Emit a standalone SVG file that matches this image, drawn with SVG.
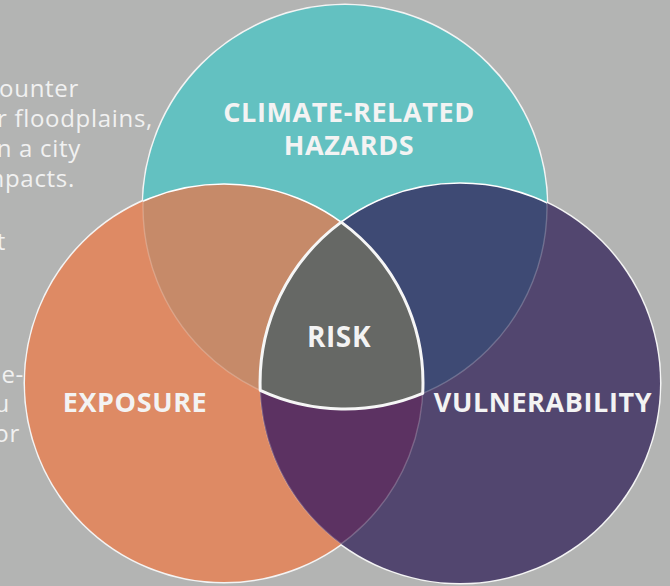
<svg xmlns="http://www.w3.org/2000/svg" width="670" height="586" viewBox="0 0 670 586">
<style>
.lbl{font-family:"Open Sans","Liberation Sans",sans-serif;font-weight:700;font-size:27px;letter-spacing:0.6px;fill:#f3f3f3;text-anchor:middle}
.side{font-family:"Open Sans","Liberation Sans",sans-serif;font-weight:400;font-size:24px;letter-spacing:0.7px;fill:#f1f1f1;text-anchor:end}
.outer{fill:none;stroke:#f4f4f4;stroke-width:3}
.inner{fill:none;stroke:#ffffff;stroke-width:1.6}
.faint{fill:none;stroke:#ffffff;stroke-width:1.4;stroke-opacity:0.22}
</style>
<defs>
<clipPath id="cT"><circle cx="345" cy="207" r="202"/></clipPath>
<clipPath id="cO"><circle cx="224" cy="383" r="199"/></clipPath>
<clipPath id="cP"><circle cx="460" cy="383" r="200"/></clipPath>
</defs>
<rect width="670" height="586" fill="#b3b4b3"/>
<g id="side-text">
<text class="side" x="79" y="97">ounter</text>
<text class="side" x="153" y="127">r floodplains,</text>
<text class="side" x="81" y="157">n a city</text>
<text class="side" x="75" y="187">mpacts.</text>
<text class="side" x="6" y="250">t</text>
<text class="side" x="24" y="383">e-</text>
<text class="side" x="10" y="412">u</text>
<text class="side" x="20" y="442">or</text>
</g>
<g id="outlines">
<circle class="outer" cx="345" cy="207" r="202"/>
<circle class="outer" cx="224" cy="383" r="199"/>
<circle class="outer" cx="460" cy="383" r="200"/>
</g>
<g id="hazards"><circle cx="345" cy="207" r="202" fill="#63c1c1"/></g>
<g id="exposure"><circle cx="224" cy="383" r="199" fill="#de8a64"/></g>
<g id="vulnerability"><circle cx="460" cy="383" r="200" fill="#52466f"/></g>
<g id="overlaps">
<circle cx="224" cy="383" r="199" fill="#c68a69" clip-path="url(#cT)"/>
<circle cx="460" cy="383" r="200" fill="#3e4a74" clip-path="url(#cT)"/>
<circle cx="460" cy="383" r="200" fill="#5c3262" clip-path="url(#cO)"/>
<circle class="inner" cx="224" cy="383" r="199" clip-path="url(#cT)"/>
<circle class="inner" cx="460" cy="383" r="200" clip-path="url(#cT)"/>
<circle class="faint" cx="345" cy="207" r="202" clip-path="url(#cO)"/>
<circle class="faint" cx="345" cy="207" r="202" clip-path="url(#cP)"/>
<circle class="faint" cx="224" cy="383" r="199" clip-path="url(#cP)"/>
<circle class="faint" cx="460" cy="383" r="200" clip-path="url(#cO)"/>
</g>
<g id="risk">
<path d="M341.2,222.1 A200,200 0 0 0 260.2,390.3 A202,202 0 0 0 422.7,393.4 A199,199 0 0 0 341.2,222.1 Z" fill="#666865" stroke="#f6f6f6" stroke-width="3" stroke-linejoin="round"/>
<text class="lbl" x="339" y="347" style="font-size:28px">RISK</text>
</g>
<g id="labels">
<text class="lbl" x="349" y="122">CLIMATE-RELATED</text>
<text class="lbl" x="349" y="155">HAZARDS</text>
<text class="lbl" x="135" y="412">EXPOSURE</text>
<text class="lbl" x="543" y="412">VULNERABILITY</text>
</g>
<g id="connectors"/>
</svg>
